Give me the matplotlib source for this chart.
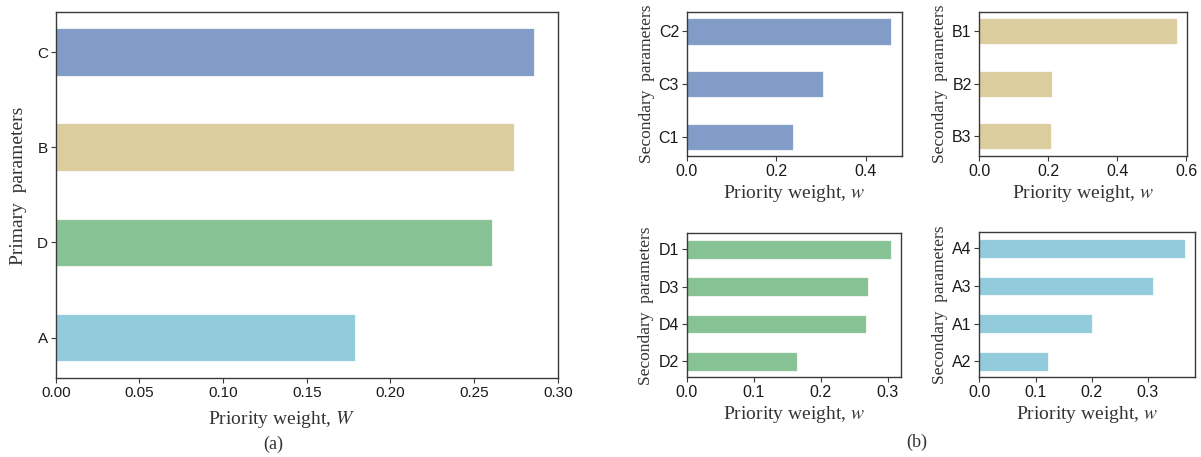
import matplotlib
matplotlib.use("Agg")
import matplotlib.pyplot as plt

# seaborn "deep" colours, drawn at alpha 0.7
col_C = "#4C72B0"
col_B = "#CCB974"
col_D = "#55A868"
col_A = "#64B5CD"

primary_labels = ["A", "D", "B", "C"]
primary_values = [0.1786, 0.2605, 0.2740, 0.2858]
primary_colors = [col_A, col_D, col_B, col_C]

c_labels = ["C1", "C3", "C2"]
c_values = [0.2367, 0.3040, 0.4570]

b_labels = ["B3", "B2", "B1"]
b_values = [0.2087, 0.2107, 0.5740]

d_labels = ["D2", "D4", "D3", "D1"]
d_values = [0.1640, 0.2680, 0.2700, 0.3040]

a_labels = ["A2", "A1", "A3", "A4"]
a_values = [0.1220, 0.2012, 0.3084, 0.3660]

plt.rcParams["font.family"] = ["Liberation Sans", "DejaVu Sans"]
plt.rcParams["mathtext.fontset"] = "stix"
plt.rcParams["axes.edgecolor"] = "#3a3a3a"
plt.rcParams["axes.linewidth"] = 1.0
plt.rcParams["xtick.color"] = "#3a3a3a"
plt.rcParams["ytick.color"] = "#3a3a3a"
plt.rcParams["xtick.labelcolor"] = "#1a1a1a"
plt.rcParams["ytick.labelcolor"] = "#1a1a1a"
plt.rcParams["xtick.major.size"] = 3.5
plt.rcParams["ytick.major.size"] = 3.5

serif = "Liberation Serif"
lab_col = "#333333"

fig = plt.figure(figsize=(12.01, 4.57), dpi=100)

W, H = 1201.0, 457.0


def add_ax(x0, x1, y0, y1):
    return fig.add_axes([x0 / W, 1 - y1 / H, (x1 - x0) / W, (y1 - y0) / H])


def bars(ax, labels, values, colors, tsize):
    ax.barh(labels, values, height=0.5, color=colors, alpha=0.7,
            edgecolor="white", linewidth=0.8)
    ax.set_xlim(0, max(values) * 1.05)
    ax.tick_params(labelsize=tsize, pad=2)


# (a) primary parameters
ax = add_ax(55.7, 558, 11.7, 378)
bars(ax, primary_labels, primary_values, primary_colors, 11)
ax.set_xticks([0, 0.05, 0.10, 0.15, 0.20, 0.25, 0.30])
ax.set_xticklabels(["0.00", "0.05", "0.10", "0.15", "0.20", "0.25", "0.30"])
ax.set_xlabel(r"Priority weight, $\mathit{W}$", family=serif, fontsize=14, color=lab_col)
ax.xaxis.set_label_coords(0.45, -0.085)
ax.set_ylabel("Primary  parameters", family=serif, fontsize=14, color=lab_col)
ax.yaxis.set_label_coords(-0.057, 0.525)
fig.text(273 / W, 1 - 444 / H, "(a)", family=serif, fontsize=13, color=lab_col,
         ha="center", va="center")

# (b) secondary parameters
panels = [
    (c_labels, c_values, col_C, (686.7, 901.7, 11.7, 156.5), [0, 0.2, 0.4]),
    (b_labels, b_values, col_B, (979.3, 1187.3, 11.7, 156.0), [0, 0.2, 0.4, 0.6]),
    (d_labels, d_values, col_D, (686.7, 900.7, 233.3, 377.3), [0, 0.1, 0.2, 0.3]),
    (a_labels, a_values, col_A, (979.3, 1195.3, 232.3, 377.3), [0, 0.1, 0.2, 0.3]),
]
for labels, values, colr, box, ticks in panels:
    ax = add_ax(*box)
    bars(ax, labels, values, colr, 11.5)
    ax.set_xticks(ticks)
    ax.set_xticklabels(["%.1f" % t for t in ticks])
    ax.set_xlabel(r"Priority weight, $\mathit{w}$", family=serif, fontsize=14,
                  color=lab_col, labelpad=3)
    ax.set_ylabel("Secondary  parameters", family=serif, fontsize=12.5,
                  color=lab_col, labelpad=3)

fig.text(917 / W, 1 - 442 / H, "(b)", family=serif, fontsize=13, color=lab_col,
         ha="center", va="center")

fig.savefig("out.png", dpi=100)
